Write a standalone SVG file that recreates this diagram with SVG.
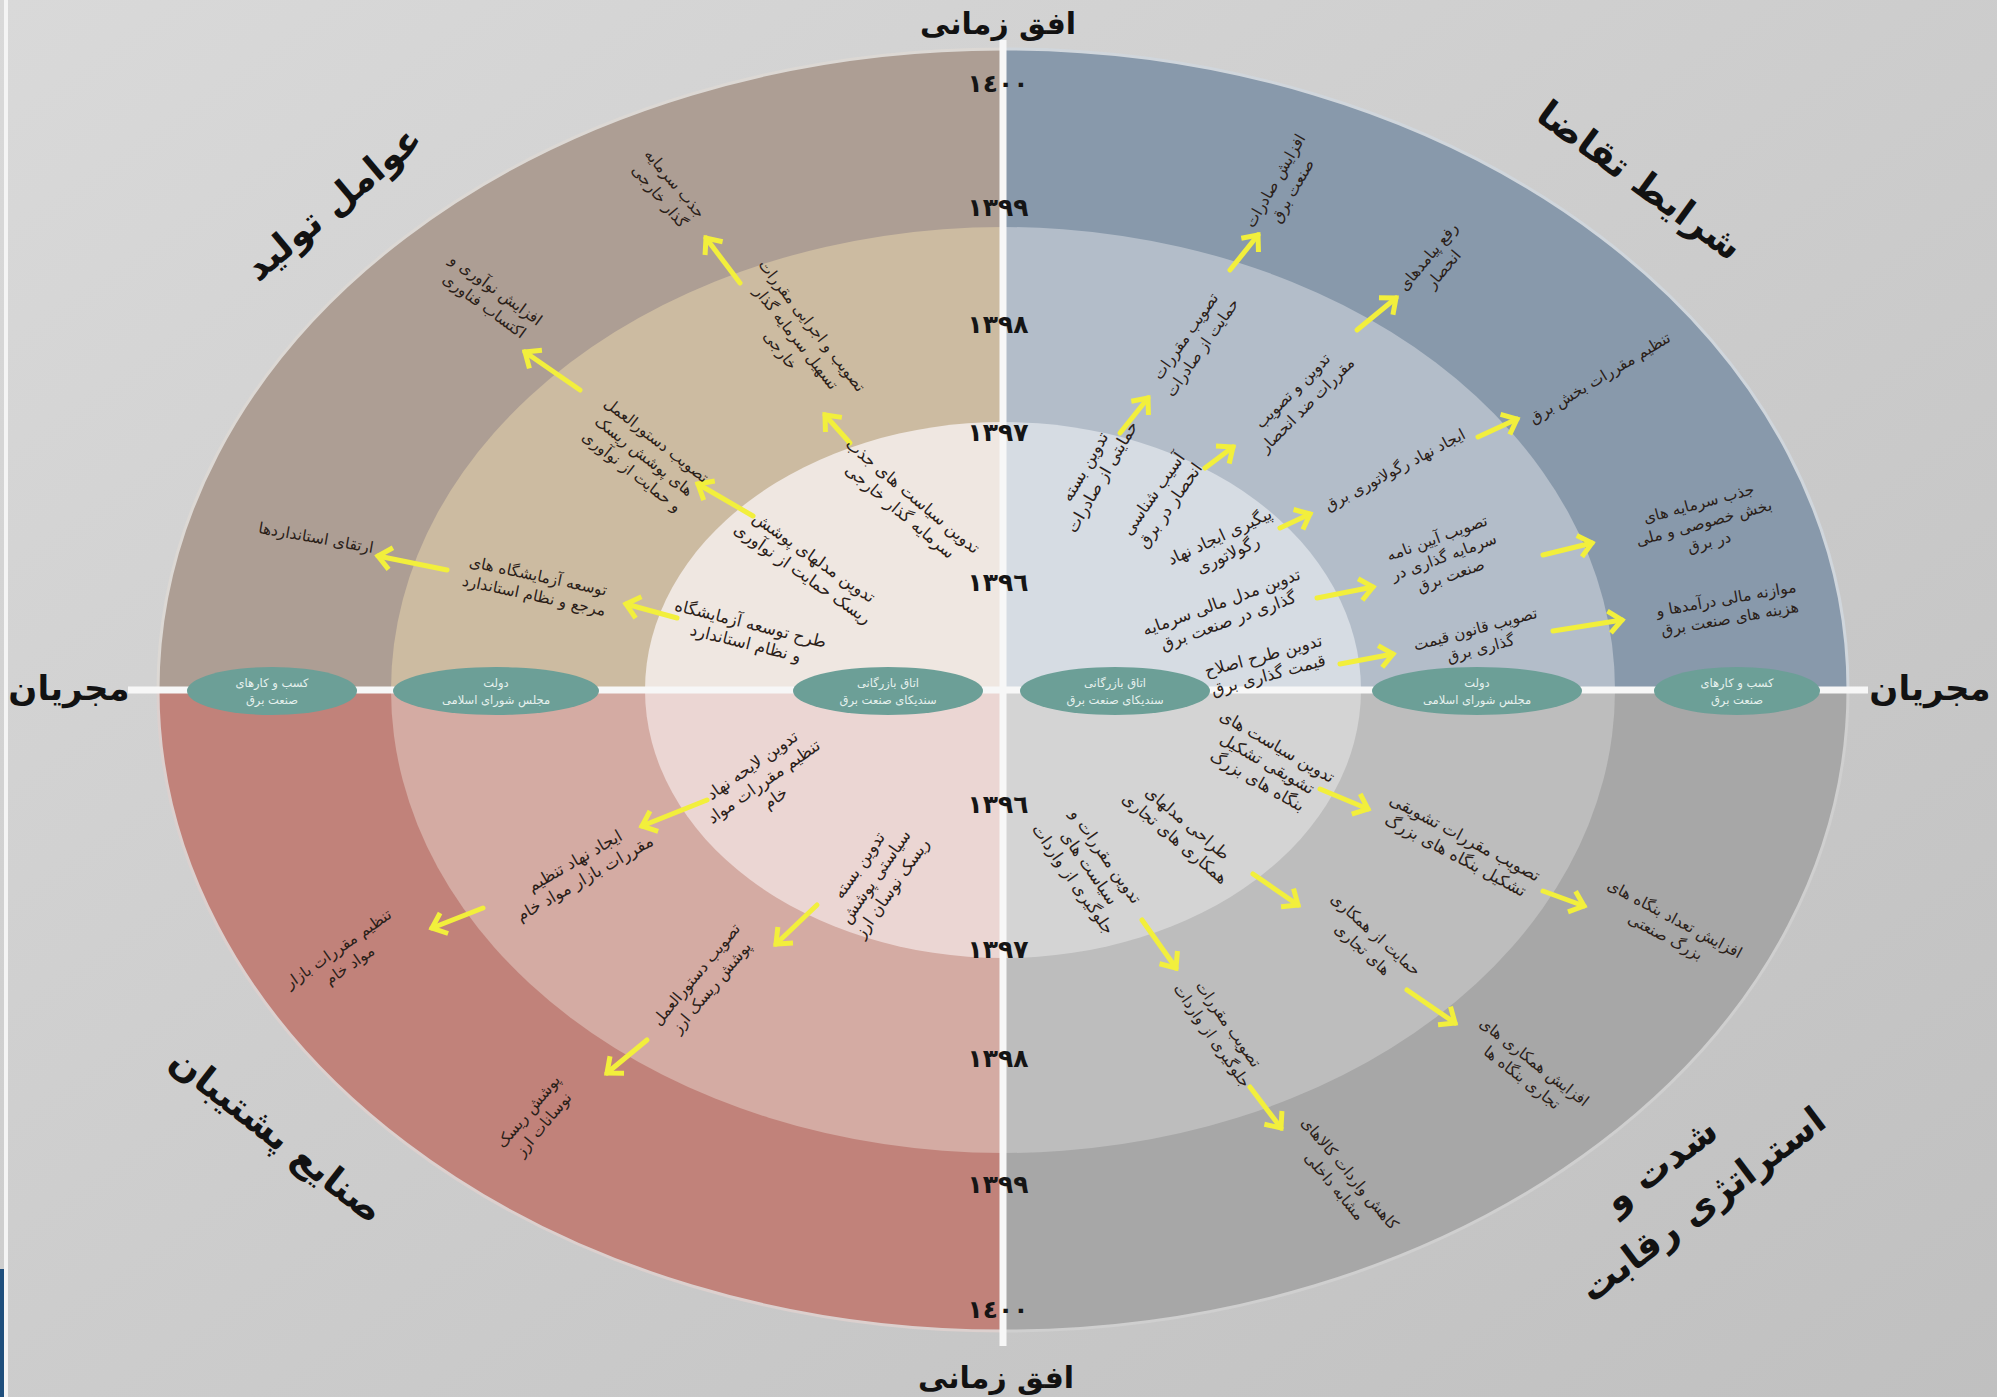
<svg xmlns="http://www.w3.org/2000/svg" width="1997" height="1397" viewBox="0 0 1997 1397">
<defs>
<linearGradient id="bg" x1="0" y1="0" x2="1" y2="1">
<stop offset="0" stop-color="#d9d9d9"/><stop offset="1" stop-color="#c0c0c0"/>
</linearGradient>
<clipPath id="qTL"><rect x="0" y="0" width="1003" height="690"/></clipPath>
<clipPath id="qTR"><rect x="1003" y="0" width="994" height="690"/></clipPath>
<clipPath id="qBL"><rect x="0" y="690" width="1003" height="707"/></clipPath>
<clipPath id="qBR"><rect x="1003" y="690" width="994" height="707"/></clipPath>
<marker id="ah" markerUnits="userSpaceOnUse" viewBox="-20 -15 25 30" markerWidth="25" markerHeight="30" refX="0" refY="0" orient="auto" overflow="visible">
<path d="M-13,-11 L0,0 L-13,11" stroke="#f2ef3c" stroke-width="5" fill="none" stroke-linejoin="miter"/>
</marker>
<style>
.t{font-family:"DejaVu Sans",sans-serif;font-size:16.5px;fill:#2a2018;text-anchor:middle}
.s{font-size:15.5px}
.yr{font-family:"DejaVu Sans",sans-serif;font-weight:bold;font-size:25px;fill:#151515;text-anchor:middle}
.ttl{font-family:"DejaVu Sans",sans-serif;font-weight:bold;font-size:40px;fill:#121212;text-anchor:middle}
.ov{fill:#6c9f97}
.ovt{font-family:"DejaVu Sans",sans-serif;font-size:11.5px;fill:#e6f1ee;text-anchor:middle}
.arr{stroke:#f2ef3c;stroke-width:5;fill:none;stroke-linecap:round;marker-end:url(#ah)}
.ax{stroke:#f7f7f7;stroke-width:7}
</style>
</defs>
<rect x="0" y="0" width="1997" height="1397" fill="url(#bg)"/>
<rect x="4" y="0" width="4" height="1397" fill="#f4f4f4"/>
<rect x="0" y="1269" width="4" height="128" fill="#1f4f7d"/>

<g id="rings">
<g clip-path="url(#qTL)">
<ellipse cx="1003" cy="690" rx="845" ry="641" fill="#ad9e94" stroke="#dcd8d4" stroke-width="3"/>
<ellipse cx="1003" cy="690" rx="612" ry="463" fill="#ccbba1"/>
<ellipse cx="1003" cy="690" rx="358" ry="268" fill="#efe7e1"/>
</g>
<g clip-path="url(#qTR)">
<ellipse cx="1003" cy="690" rx="845" ry="641" fill="#8899ab" stroke="#d0d6dc" stroke-width="3"/>
<ellipse cx="1003" cy="690" rx="612" ry="463" fill="#b3bdc9"/>
<ellipse cx="1003" cy="690" rx="358" ry="268" fill="#d6dce3"/>
</g>
<g clip-path="url(#qBL)">
<ellipse cx="1003" cy="690" rx="845" ry="641" fill="#c1827a" stroke="#dcd0ce" stroke-width="3"/>
<ellipse cx="1003" cy="690" rx="612" ry="463" fill="#d4aba3"/>
<ellipse cx="1003" cy="690" rx="358" ry="268" fill="#ebd6d3"/>
</g>
<g clip-path="url(#qBR)">
<ellipse cx="1003" cy="690" rx="845" ry="641" fill="#a7a7a7" stroke="#cfcfcf" stroke-width="3"/>
<ellipse cx="1003" cy="690" rx="612" ry="463" fill="#bdbdbd"/>
<ellipse cx="1003" cy="690" rx="358" ry="268" fill="#d4d4d4"/>
</g>
</g>

<g id="axes">
<line class="ax" x1="1003" y1="40" x2="1003" y2="1346"/>
<line class="ax" x1="128" y1="690" x2="1868" y2="690"/>
</g>

<g id="years">
<text class="yr" x="998" y="92">١٤٠٠</text>
<text class="yr" x="998" y="216">١٣٩٩</text>
<text class="yr" x="998" y="333">١٣٩٨</text>
<text class="yr" x="998" y="441">١٣٩٧</text>
<text class="yr" x="998" y="591">١٣٩٦</text>
<text class="yr" x="998" y="813">١٣٩٦</text>
<text class="yr" x="998" y="958">١٣٩٧</text>
<text class="yr" x="998" y="1067">١٣٩٨</text>
<text class="yr" x="998" y="1193">١٣٩٩</text>
<text class="yr" x="998" y="1318">١٤٠٠</text>
</g>

<g id="axis-titles">
<text class="ttl" x="998" y="34" style="font-size:30px">افق زمانی</text>
<text class="ttl" x="996" y="1388" style="font-size:30px">افق زمانی</text>
<text class="ttl" x="69" y="700" style="font-size:34px">مجریان</text>
<text class="ttl" x="1930" y="700" style="font-size:34px">مجریان</text>
</g>

<g id="quadrant-titles">
<g id="q-tl" transform="translate(333,203) rotate(-40)"><text class="ttl" x="0" y="13" style="font-size:37px">عوامل تولید</text></g>
<g id="q-tr" transform="translate(1640,180) rotate(36)"><text class="ttl" x="0" y="13" style="font-size:37px">شرایط تقاضا</text></g>
<g id="q-bl" transform="translate(277,1135) rotate(38)"><text class="ttl" x="0" y="13" style="font-size:37px">صنایع پشتیبان</text></g>
<g id="q-br" transform="translate(1685,1181) rotate(-37)"><text class="ttl" style="font-size:37px"><tspan x="-10" y="-15">شدت و</tspan><tspan x="0" y="42">استراتژی رقابت</tspan></text></g>
</g>

<g id="actors">
<g id="act-l1"><ellipse class="ov" cx="272" cy="691" rx="85" ry="24"/><text class="ovt"><tspan x="272" y="687">کسب و کارهای</tspan><tspan x="272" y="704">صنعت برق</tspan></text></g>
<g id="act-l2"><ellipse class="ov" cx="496" cy="691" rx="103" ry="24"/><text class="ovt"><tspan x="496" y="687">دولت</tspan><tspan x="496" y="704">مجلس شورای اسلامی</tspan></text></g>
<g id="act-l3"><ellipse class="ov" cx="888" cy="691" rx="95" ry="24"/><text class="ovt"><tspan x="888" y="687">اتاق بازرگانی</tspan><tspan x="888" y="704">سندیکای صنعت برق</tspan></text></g>
<g id="act-r3"><ellipse class="ov" cx="1115" cy="691" rx="95" ry="24"/><text class="ovt"><tspan x="1115" y="687">اتاق بازرگانی</tspan><tspan x="1115" y="704">سندیکای صنعت برق</tspan></text></g>
<g id="act-r2"><ellipse class="ov" cx="1477" cy="691" rx="105" ry="24"/><text class="ovt"><tspan x="1477" y="687">دولت</tspan><tspan x="1477" y="704">مجلس شورای اسلامی</tspan></text></g>
<g id="act-r1"><ellipse class="ov" cx="1737" cy="691" rx="83" ry="24"/><text class="ovt"><tspan x="1737" y="687">کسب و کارهای</tspan><tspan x="1737" y="704">صنعت برق</tspan></text></g>
</g>

<g id="connectors">
<line class="arr" x1="850" y1="443" x2="825" y2="415"/>
<line class="arr" x1="753" y1="516" x2="698" y2="484"/>
<line class="arr" x1="677" y1="618" x2="626" y2="604"/>
<line class="arr" x1="740" y1="283" x2="706" y2="238"/>
<line class="arr" x1="580" y1="390" x2="525" y2="352"/>
<line class="arr" x1="447" y1="570" x2="378" y2="556"/>
<line class="arr" x1="1120" y1="433" x2="1148" y2="398"/>
<line class="arr" x1="1205" y1="468" x2="1233" y2="447"/>
<line class="arr" x1="1280" y1="528" x2="1310" y2="514"/>
<line class="arr" x1="1317" y1="598" x2="1373" y2="587"/>
<line class="arr" x1="1340" y1="664" x2="1393" y2="654"/>
<line class="arr" x1="1230" y1="270" x2="1258" y2="235"/>
<line class="arr" x1="1357" y1="330" x2="1396" y2="298"/>
<line class="arr" x1="1478" y1="437" x2="1517" y2="419"/>
<line class="arr" x1="1543" y1="555" x2="1592" y2="543"/>
<line class="arr" x1="1553" y1="631" x2="1622" y2="620"/>
<line class="arr" x1="707" y1="800" x2="642" y2="826"/>
<line class="arr" x1="817" y1="905" x2="776" y2="944"/>
<line class="arr" x1="483" y1="908" x2="432" y2="928"/>
<line class="arr" x1="647" y1="1040" x2="607" y2="1073"/>
<line class="arr" x1="1320" y1="789" x2="1368" y2="809"/>
<line class="arr" x1="1253" y1="874" x2="1298" y2="905"/>
<line class="arr" x1="1142" y1="920" x2="1176" y2="968"/>
<line class="arr" x1="1543" y1="891" x2="1584" y2="906"/>
<line class="arr" x1="1407" y1="990" x2="1455" y2="1023"/>
<line class="arr" x1="1250" y1="1087" x2="1281" y2="1128"/>
</g>

<g id="nodes-tl">
<g id="n-a" transform="translate(906,504) rotate(40)"><text class="t"><tspan x="0" y="-5">تدوین سیاست های جذب</tspan><tspan x="0" y="15">سرمایه گذار خارجی</tspan></text></g>
<g id="n-b" transform="translate(808,566) rotate(35)"><text class="t"><tspan x="0" y="-5">تدوین مدلهای پوشش</tspan><tspan x="0" y="15">ریسک حمایت از نوآوری</tspan></text></g>
<g id="n-c" transform="translate(748,634) rotate(14)"><text class="t"><tspan x="0" y="-5">طرح توسعه آزمایشگاه</tspan><tspan x="0" y="15">و نظام استاندارد</tspan></text></g>
<g id="n-d" transform="translate(796,338) rotate(52)"><text class="t s"><tspan x="0" y="-15">تصویب و اجرایی مقررات</tspan><tspan x="0" y="5">تسهیل سرمایه گذار</tspan><tspan x="0" y="25">خارجی</tspan></text></g>
<g id="n-e" transform="translate(644,456) rotate(38)"><text class="t s"><tspan x="0" y="-15">تصویب دستورالعمل</tspan><tspan x="0" y="5">های پوشش ریسک</tspan><tspan x="0" y="25">و حمایت از نوآوری</tspan></text></g>
<g id="n-f" transform="translate(536,586) rotate(12)"><text class="t s"><tspan x="0" y="-5">توسعه آزمایشگاه های</tspan><tspan x="0" y="15">مرجع و نظام استاندارد</tspan></text></g>
<g id="n-g" transform="translate(667,190) rotate(50)"><text class="t s"><tspan x="0" y="-5">جذب سرمایه</tspan><tspan x="0" y="15">گذار خارجی</tspan></text></g>
<g id="n-h" transform="translate(490,298) rotate(36)"><text class="t s"><tspan x="0" y="-5">افزایش نوآوری و</tspan><tspan x="0" y="15">اکتساب فناوری</tspan></text></g>
<g id="n-i" transform="translate(316,538) rotate(10)"><text class="t s"><tspan x="0" y="5">ارتقای استانداردها</tspan></text></g>
</g>

<g id="nodes-tr">
<g id="n-j" transform="translate(1094,472) rotate(-60)"><text class="t"><tspan x="0" y="-5">تدوین بسته</tspan><tspan x="0" y="15">حمایتی از صادرات</tspan></text></g>
<g id="n-k" transform="translate(1162,500) rotate(-55)"><text class="t"><tspan x="0" y="-5">آسیب شناسی</tspan><tspan x="0" y="15">انحصار در برق</tspan></text></g>
<g id="n-l" transform="translate(1224,546) rotate(-25)"><text class="t"><tspan x="0" y="-5">پیگیری ایجاد نهاد</tspan><tspan x="0" y="15">رگولاتوری</tspan></text></g>
<g id="n-m" transform="translate(1225,612) rotate(-20)"><text class="t"><tspan x="0" y="-5">تدوین مدل مالی سرمایه</tspan><tspan x="0" y="15">گذاری در صنعت برق</tspan></text></g>
<g id="n-n" transform="translate(1266,666) rotate(-15)"><text class="t"><tspan x="0" y="-5">تدوین طرح اصلاح</tspan><tspan x="0" y="15">قیمت گذاری برق</tspan></text></g>
<g id="n-o" transform="translate(1194,342) rotate(-55)"><text class="t s"><tspan x="0" y="-5">تصویب مقررات</tspan><tspan x="0" y="15">حمایت از صادرات</tspan></text></g>
<g id="n-p" transform="translate(1300,398) rotate(-45)"><text class="t s"><tspan x="0" y="-5">تدوین و تصویب</tspan><tspan x="0" y="15">مقررات ضد انحصار</tspan></text></g>
<g id="n-q" transform="translate(1395,470) rotate(-28)"><text class="t s"><tspan x="0" y="5">ایجاد نهاد رگولاتوری برق</tspan></text></g>
<g id="n-r" transform="translate(1444,557) rotate(-20)"><text class="t s"><tspan x="0" y="-15">تصویب آیین نامه</tspan><tspan x="0" y="5">سرمایه گذاری در</tspan><tspan x="0" y="25">صنعت برق</tspan></text></g>
<g id="n-s" transform="translate(1478,639) rotate(-15)"><text class="t s"><tspan x="0" y="-5">تصویب قانون قیمت</tspan><tspan x="0" y="15">گذاری برق</tspan></text></g>
<g id="n-t" transform="translate(1284,186) rotate(-60)"><text class="t s"><tspan x="0" y="-5">افزایش صادرات</tspan><tspan x="0" y="15">صنعت برق</tspan></text></g>
<g id="n-u" transform="translate(1436,263) rotate(-50)"><text class="t s"><tspan x="0" y="-5">رفع پیامدهای</tspan><tspan x="0" y="15">انحصار</tspan></text></g>
<g id="n-v" transform="translate(1600,378) rotate(-31)"><text class="t s"><tspan x="0" y="5">تنظیم مقررات بخش برق</tspan></text></g>
<g id="n-w" transform="translate(1704,523) rotate(-15)"><text class="t s"><tspan x="0" y="-15">جذب سرمایه های</tspan><tspan x="0" y="5">بخش خصوصی و ملی</tspan><tspan x="0" y="25">در برق</tspan></text></g>
<g id="n-x" transform="translate(1728,609) rotate(-10)"><text class="t s"><tspan x="0" y="-5">موازنه مالی درآمدها و</tspan><tspan x="0" y="15">هزینه های صنعت برق</tspan></text></g>
</g>

<g id="nodes-bl">
<g id="n-y" transform="translate(764,782) rotate(-35)"><text class="t"><tspan x="0" y="-15">تدوین لایحه نهاد</tspan><tspan x="0" y="5">تنظیم مقررات مواد</tspan><tspan x="0" y="25">خام</tspan></text></g>
<g id="n-z" transform="translate(876,877) rotate(-55)"><text class="t"><tspan x="0" y="-15">تدوین بسته</tspan><tspan x="0" y="5">سیاستی پوشش</tspan><tspan x="0" y="25">ریسک نوسان ارز</tspan></text></g>
<g id="n-aa" transform="translate(580,870) rotate(-30)"><text class="t"><tspan x="0" y="-5">ایجاد نهاد تنظیم</tspan><tspan x="0" y="15">مقررات بازار مواد خام</tspan></text></g>
<g id="n-bb" transform="translate(704,981) rotate(-50)"><text class="t s"><tspan x="0" y="-5">تصویب دستورالعمل</tspan><tspan x="0" y="15">پوشش ریسک ارز</tspan></text></g>
<g id="n-cc" transform="translate(344,957) rotate(-35)"><text class="t s"><tspan x="0" y="-5">تنظیم مقررات بازار</tspan><tspan x="0" y="15">مواد خام</tspan></text></g>
<g id="n-dd" transform="translate(536,1118) rotate(-50)"><text class="t s"><tspan x="0" y="-5">پوشش ریسک</tspan><tspan x="0" y="15">نوسانات ارز</tspan></text></g>
</g>

<g id="nodes-br">
<g id="n-ee" transform="translate(1267,764) rotate(30)"><text class="t"><tspan x="0" y="-15">تدوین سیاست های</tspan><tspan x="0" y="5">تشویقی تشکیل</tspan><tspan x="0" y="25">بنگاه های بزرگ</tspan></text></g>
<g id="n-ff" transform="translate(1181,831) rotate(40)"><text class="t"><tspan x="0" y="-5">طراحی مدلهای</tspan><tspan x="0" y="15">همکاری های تجاری</tspan></text></g>
<g id="n-gg" transform="translate(1089,868) rotate(55)"><text class="t"><tspan x="0" y="-15">تدوین مقررات و</tspan><tspan x="0" y="5">سیاست های</tspan><tspan x="0" y="25">جلوگیری از واردات</tspan></text></g>
<g id="n-hh" transform="translate(1460,847) rotate(28)"><text class="t"><tspan x="0" y="-5">تصویب مقررات تشویقی</tspan><tspan x="0" y="15">تشکیل بنگاه های بزرگ</tspan></text></g>
<g id="n-ii" transform="translate(1369,942) rotate(42)"><text class="t s"><tspan x="0" y="-5">حمایت از همکاری</tspan><tspan x="0" y="15">های تجاری</tspan></text></g>
<g id="n-jj" transform="translate(1220,1030) rotate(55)"><text class="t s"><tspan x="0" y="-5">تصویب مقررات</tspan><tspan x="0" y="15">جلوگیری از واردات</tspan></text></g>
<g id="n-kk" transform="translate(1670,928) rotate(28)"><text class="t s"><tspan x="0" y="-5">افزایش تعداد بنگاه های</tspan><tspan x="0" y="15">بزرگ صنعتی</tspan></text></g>
<g id="n-ll" transform="translate(1528,1070) rotate(38)"><text class="t s"><tspan x="0" y="-5">افزایش همکاری های</tspan><tspan x="0" y="15">تجاری بنگاه ها</tspan></text></g>
<g id="n-mm" transform="translate(1342,1180) rotate(50)"><text class="t s"><tspan x="0" y="-5">کاهش واردات کالاهای</tspan><tspan x="0" y="15">مشابه داخلی</tspan></text></g>
</g>
</svg>
